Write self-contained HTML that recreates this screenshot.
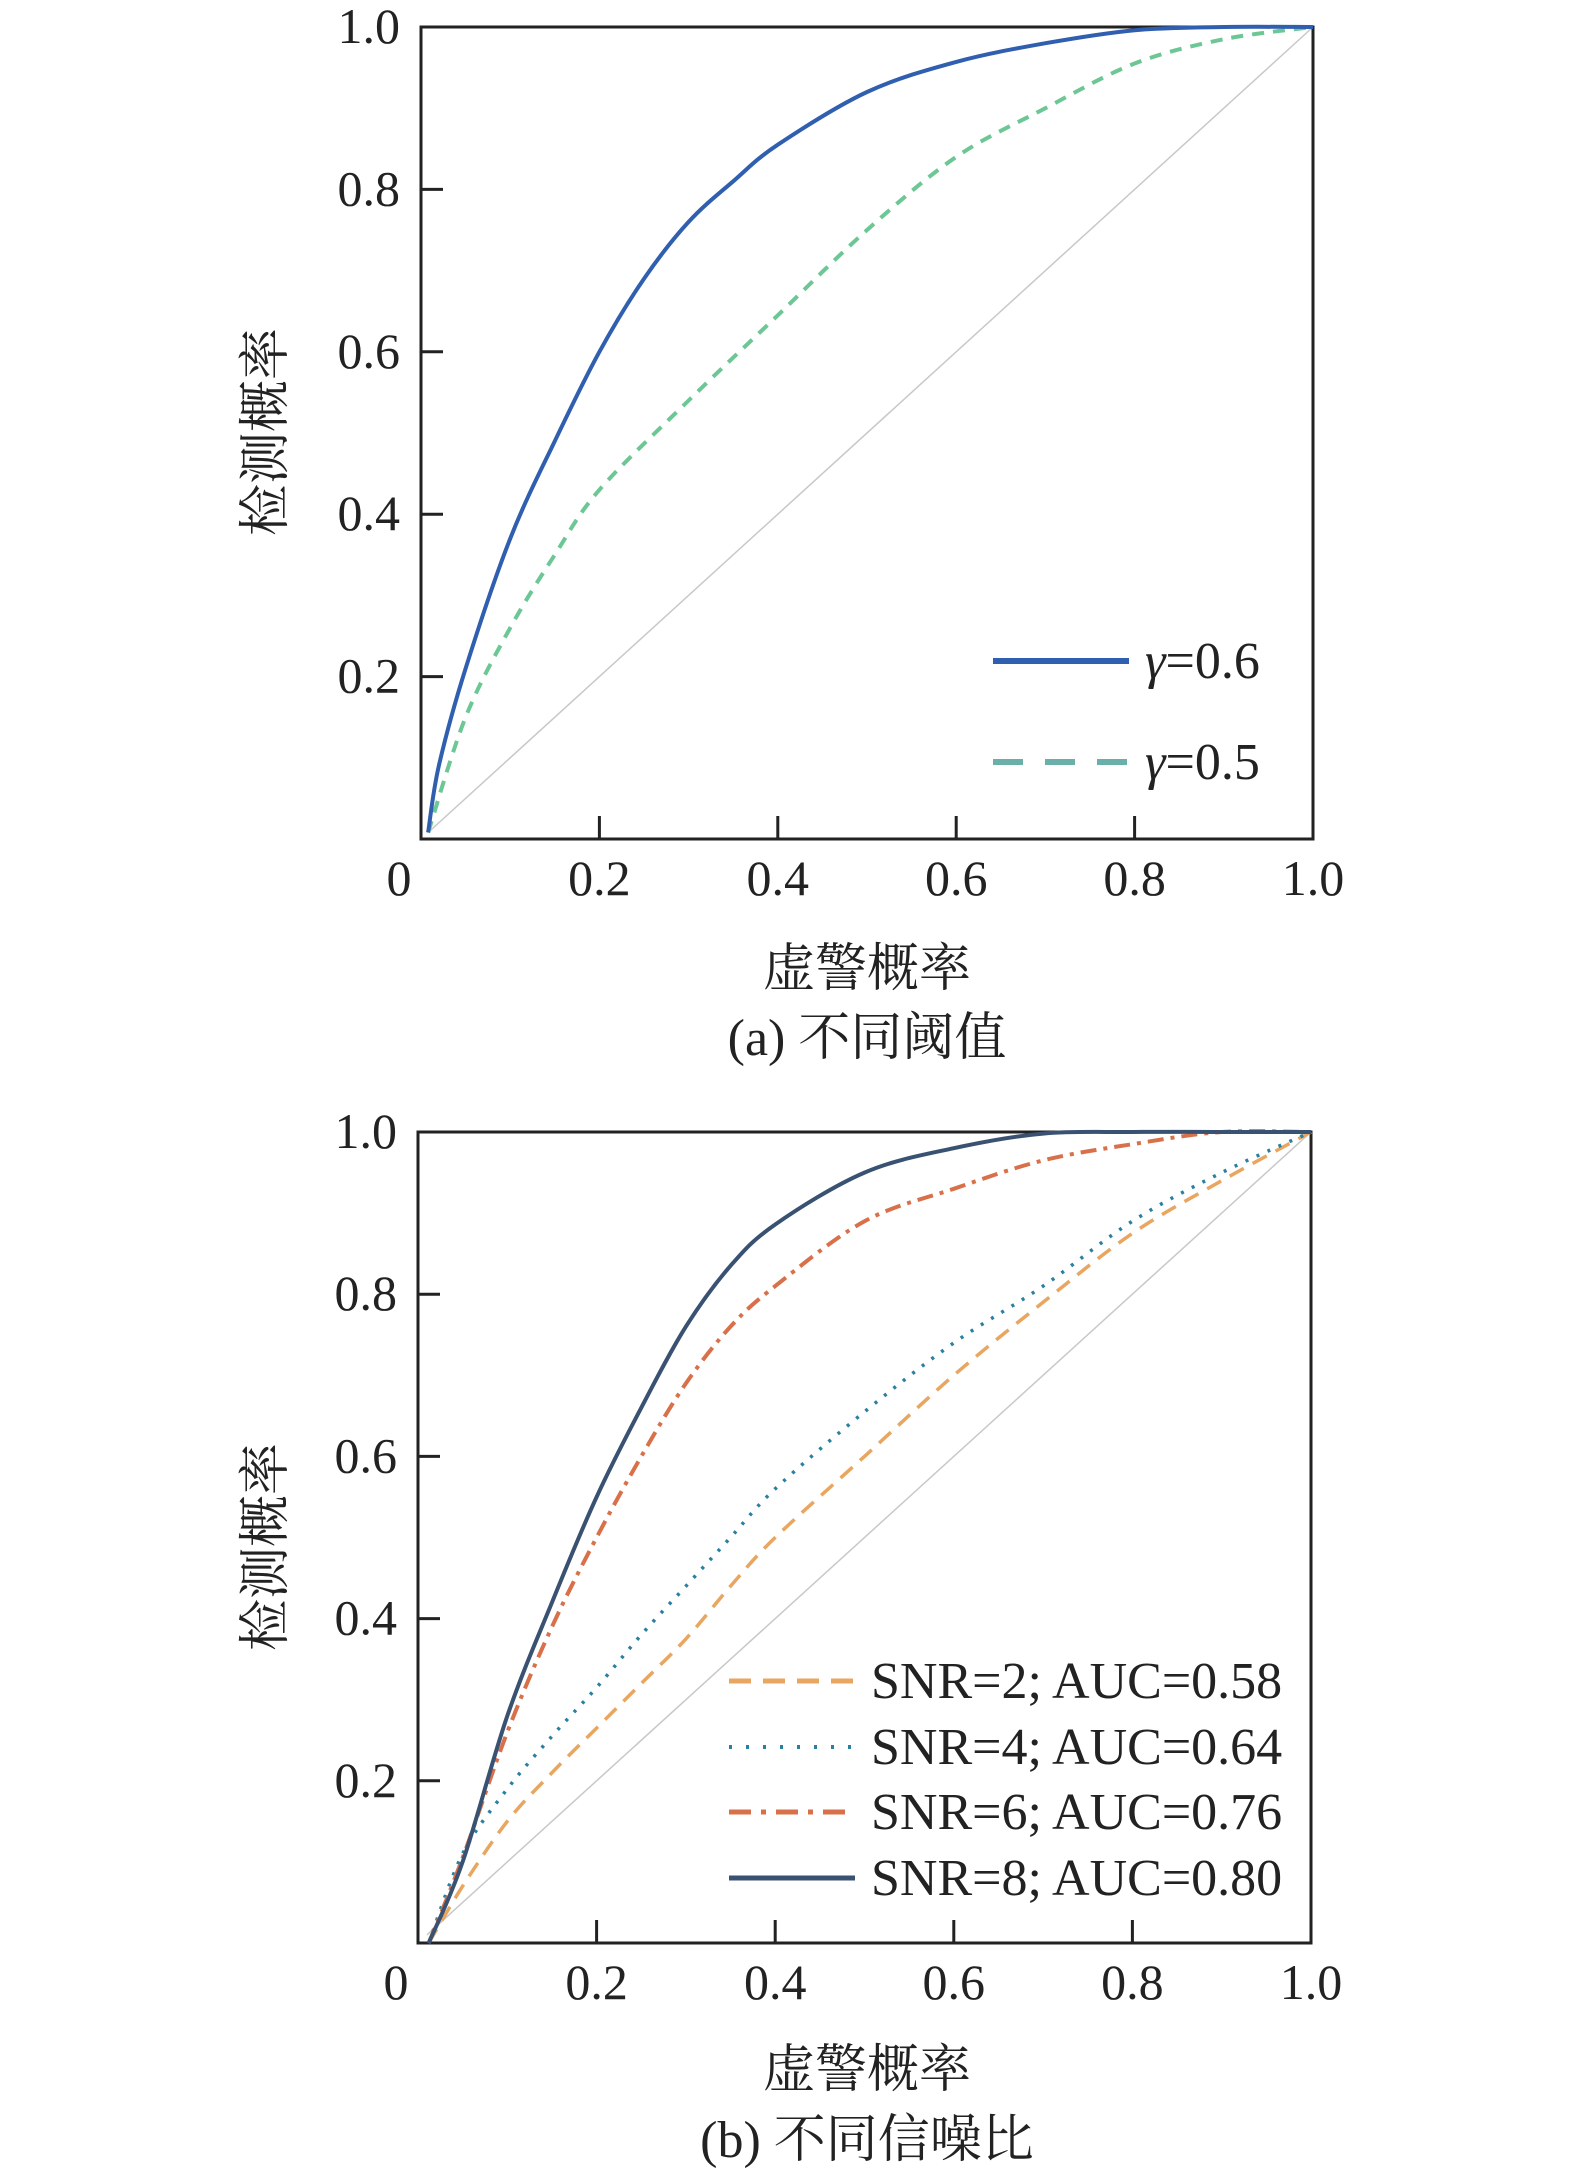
<!DOCTYPE html>
<html><head><meta charset="utf-8"><style>
body{margin:0;background:#fff}
svg{display:block}
text{font-family:"Liberation Serif","Noto Serif CJK SC",serif;fill:#222}
</style></head><body>
<svg id="s" width="1575" height="2171" viewBox="0 0 1575 2171"></svg>
<script>
const ticks=[0.2,0.4,0.6,0.8,1.0];
const tickLabels=["0.2","0.4","0.6","0.8","1.0"];
const aX06=[0.008,0.02,0.05,0.1,0.15,0.2,0.25,0.3,0.35,0.4,0.5,0.6,0.7,0.8,0.9,1.0];
const aY06=[0.008,0.09,0.21,0.37,0.49,0.60,0.69,0.76,0.81,0.855,0.92,0.957,0.98,0.996,1.0,1.0];
const aX05=[0.008,0.05,0.1,0.15,0.2,0.3,0.4,0.5,0.6,0.7,0.8,0.9,1.0];
const aY05=[0.008,0.15,0.26,0.35,0.43,0.54,0.645,0.75,0.84,0.90,0.955,0.985,1.0];
const bX=[0.012,0.05,0.1,0.15,0.2,0.25,0.3,0.35,0.4,0.5,0.6,0.7,0.8,0.9,1.0];
const bY8=[0.0,0.10,0.28,0.42,0.55,0.66,0.76,0.835,0.886,0.95,0.98,0.998,1.0,1.0,1.0];
const bY6=[0.0,0.105,0.26,0.39,0.50,0.60,0.69,0.76,0.81,0.89,0.93,0.965,0.985,1.0,1.0];
const bY4=[0.0,0.11,0.19,0.255,0.315,0.38,0.44,0.50,0.56,0.655,0.74,0.81,0.89,0.95,1.0];
const bY2=[0.0,0.07,0.15,0.21,0.265,0.32,0.375,0.44,0.50,0.60,0.70,0.79,0.875,0.94,1.0];
const NS="http://www.w3.org/2000/svg";
const svg=document.getElementById('s');
function mk(tag,attrs,parent){const e=document.createElementNS(NS,tag);for(const k in attrs)e.setAttribute(k,attrs[k]);(parent||svg).appendChild(e);return e;}
function panel(L,R,T,B,name,labY){
  const g=mk('g',{});
  
  
  const sx=v=>L+v*(R-L), sy=v=>B-v*(B-T);
  const diag=mk('line',{x1:sx(0.01),y1:sy(0.01),x2:sx(1),y2:sy(1),stroke:'#c8c8c8','stroke-width':1.5},g);
  
  
  const fr=mk('rect',{x:L,y:T,width:R-L,height:B-T,fill:'none',stroke:'#222','stroke-width':3},g);
  
  
  ticks.forEach((t,i)=>{
    const xt=mk('line',{x1:sx(t),y1:B,x2:sx(t),y2:B-23,stroke:'#222','stroke-width':3},g);
    
    
    const yt=mk('line',{x1:L,y1:sy(t),x2:L+22,y2:sy(t),stroke:'#222','stroke-width':3},g);
    
    
    const xl=mk('text',{x:sx(t),y:labY,'font-size':50,'text-anchor':'middle'},g);xl.textContent=tickLabels[i];
    
    
    const yl=mk('text',{x:L-21,y:sy(t)+16,'font-size':50,'text-anchor':'end'},g);yl.textContent=tickLabels[i];
    
    
  });
  const z=mk('text',{x:L-22,y:labY,'font-size':50,'text-anchor':'middle'},g);z.textContent='0';
  
  
  return {g,sx,sy};
}
function curve(p,xs,ys,color,dash,w,name){
  const P=xs.map((x,i)=>[p.sx(x),p.sy(ys[i])]);
  let d='M'+P[0][0].toFixed(1)+','+P[0][1].toFixed(1);
  for(let i=0;i<P.length-1;i++){
    const p0=P[Math.max(i-1,0)],p1=P[i],p2=P[i+1],p3=P[Math.min(i+2,P.length-1)];
    const c1=[p1[0]+(p2[0]-p0[0])/6,p1[1]+(p2[1]-p0[1])/6];
    const c2=[p2[0]-(p3[0]-p1[0])/6,p2[1]-(p3[1]-p1[1])/6];
    d+=' C'+c1.map(v=>v.toFixed(1)).join(',')+' '+c2.map(v=>v.toFixed(1)).join(',')+' '+p2.map(v=>v.toFixed(1)).join(',');
  }
  const e=mk('path',{d:d,fill:'none',stroke:color,'stroke-width':w,'stroke-dasharray':dash,'stroke-linejoin':'round'},p.g);
  
  
}
function legend(g,x1,x2,y,color,dash,w,label,tx){
  const l=mk('line',{x1:x1,y1:y,x2:x2,y2:y,stroke:color,'stroke-width':w,'stroke-dasharray':dash},g);
  
  
  const t=mk('text',{x:tx,y:y+17,'font-size':52},g);
  t.innerHTML=label;
  
  
}
function label(x,y,txt,name,rot){
  const t=mk('text',{x:x,y:y,'font-size':52,'text-anchor':'middle'});
  if(rot)t.setAttribute('transform','rotate(-90 '+x+' '+y+')');
  t.textContent=txt;
  
  
}
// panel a
const pa=panel(421,1313,27,839,'chart-a',895);
curve(pa,aX05,aY05,'#6cc795','12,9',4,'series-gamma-0.5');
curve(pa,aX06,aY06,'#2f5fae','',4,'series-gamma-0.6');
legend(pa.g,993,1129,661,'#2f5fae','',6,'<tspan font-style="italic">γ</tspan>=0.6',1145);
legend(pa.g,993,1129,762,'#6bb0a8','30,22',6,'<tspan font-style="italic">γ</tspan>=0.5',1145);
label(283,432,'检测概率','y-axis-title-a',true);
label(867,986,'虚警概率','x-axis-title-a');
label(867,1055,'(a) 不同阈值','caption-a');
// panel b
const pb=panel(418,1311,1132,1943,'chart-b',1999);
curve(pb,bX,bY2,'#e8a660','16,10',3.5,'series-snr-2');
curve(pb,bX,bY4,'#2a80a0','3,9',3.5,'series-snr-4');
curve(pb,bX,bY6,'#d8704a','16,7,4,7',4,'series-snr-6');
curve(pb,bX,bY8,'#3a5272','',4,'series-snr-8');
legend(pb.g,729,855,1681,'#e8a660','22,12',5,'SNR=2; AUC=0.58',871);
legend(pb.g,729,855,1747,'#2a80a0','3,14',4,'SNR=4; AUC=0.64',871);
legend(pb.g,729,855,1812,'#d8704a','22,10,5,10',5,'SNR=6; AUC=0.76',871);
legend(pb.g,729,855,1878,'#3a5272','',5,'SNR=8; AUC=0.80',871);
label(283,1547,'检测概率','y-axis-title-b',true);
label(867,2087,'虚警概率','x-axis-title-b');
label(867,2157,'(b) 不同信噪比','caption-b');
</script>
</body></html>
